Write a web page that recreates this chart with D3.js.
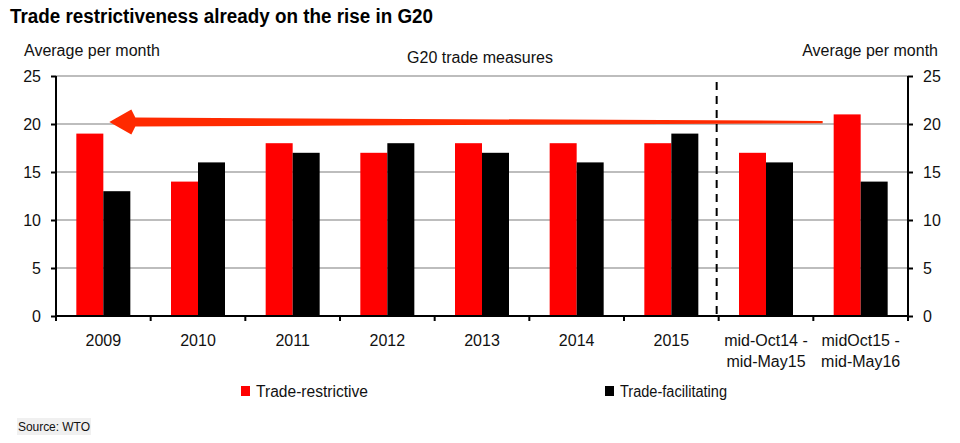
<!DOCTYPE html>
<html>
<head>
<meta charset="utf-8">
<script src="https://cdn.jsdelivr.net/npm/d3@7"></script>
<style>
  html, body { margin: 0; padding: 0; background: #fff; }
  svg { display: block; font-family: Arial, "Liberation Sans", sans-serif; }
</style>
</head>
<body>
<svg id="chart" width="960" height="443"></svg>
<script>
const categories = ["2009", "2010", "2011", "2012", "2013", "2014", "2015", "mid-Oct14 -\nmid-May15", "midOct15 -\nmid-May16"];
const seriesNames = ["Trade-restrictive", "Trade-facilitating"];
const restrictive = [19, 14, 18, 17, 18, 18, 18, 17, 21];
const facilitating = [13, 16, 17, 18, 17, 16, 19, 16, 14];
const yTicks = [0, 5, 10, 15, 20, 25];
const colors = ["#ff0000", "#000000"];
const arrowLevel = 20.2;

const svg = d3.select("#chart");
const x = d3.scaleBand().domain(categories).range([56, 908]).padding(0);
const xs = d3.scaleBand().domain(seriesNames).range([x.bandwidth() / 2 - 27, x.bandwidth() / 2 + 27]).padding(0);
const y = d3.scaleLinear().domain([0, 25]).range([316, 76]);

// Title
svg.append("text").attr("x", 10).attr("y", 23).attr("font-size", 20).attr("font-weight", "bold").attr("fill", "#000")
  .attr("textLength", 423).attr("lengthAdjust", "spacingAndGlyphs")
  .text("Trade restrictiveness already on the rise in G20");
svg.append("text").attr("x", 24).attr("y", 56).attr("font-size", 16).attr("fill", "#111").text("Average per month");
svg.append("text").attr("x", 938).attr("y", 56).attr("font-size", 16).attr("text-anchor", "end").attr("fill", "#111").text("Average per month");
svg.append("text").attr("x", 480).attr("y", 63).attr("font-size", 16).attr("text-anchor", "middle").attr("fill", "#111").text("G20 trade measures");

// Gridlines
svg.append("g").selectAll("line").data(yTicks.filter(d => d > 0)).join("line")
  .attr("x1", 56).attr("x2", 908).attr("y1", d => y(d)).attr("y2", d => y(d))
  .attr("stroke", "#bdbdbd").attr("stroke-width", 2);

// Bars
const data = categories.map((c, i) => ({ c, vals: [restrictive[i], facilitating[i]] }));
const groups = svg.append("g").selectAll("g").data(data).join("g")
  .attr("transform", d => `translate(${x(d.c)},0)`);
groups.selectAll("rect").data(d => d.vals.map((v, j) => ({ v, s: seriesNames[j], j }))).join("rect")
  .attr("x", d => xs(d.s)).attr("width", xs.bandwidth())
  .attr("y", d => y(d.v)).attr("height", d => y(0) - y(d.v))
  .attr("fill", d => colors[d.j]);

// Dashed separator
svg.append("line").attr("x1", x(categories[7]) - 2).attr("x2", x(categories[7]) - 2)
  .attr("y1", 82).attr("y2", y(0))
  .attr("stroke", "#000").attr("stroke-width", 2).attr("stroke-dasharray", "8,6");

// Axes
const yLeft = d3.axisLeft(y).tickValues(yTicks).tickSize(5).tickPadding(10);
const gl = svg.append("g").attr("transform", "translate(56,0)").call(yLeft);
const yRight = d3.axisRight(y).tickValues(yTicks).tickSize(5).tickPadding(10);
const gr = svg.append("g").attr("transform", "translate(908,0)").call(yRight);
[gl, gr].forEach(g => {
  g.selectAll(".tick line").attr("stroke", "#000").attr("stroke-width", 2);
  g.selectAll(".tick text").attr("font-size", 16).attr("font-family", "Arial, 'Liberation Sans', sans-serif").attr("fill", "#111");
});
gl.select(".domain").remove();
gr.select(".domain").remove();
svg.append("line").attr("x1", 56).attr("x2", 56).attr("y1", y(25)).attr("y2", y(0) + 1).attr("stroke", "#000").attr("stroke-width", 2);
svg.append("line").attr("x1", 908).attr("x2", 908).attr("y1", y(25)).attr("y2", y(0) + 1).attr("stroke", "#000").attr("stroke-width", 2);

// X axis
svg.append("line").attr("x1", 55).attr("x2", 909).attr("y1", y(0)).attr("y2", y(0)).attr("stroke", "#000").attr("stroke-width", 2);
const xTickPos = categories.map(c => x(c)).concat([x(categories[categories.length - 1]) + x.bandwidth()]);
svg.append("g").selectAll("line").data(xTickPos).join("line")
  .attr("x1", d => d).attr("x2", d => d).attr("y1", y(0)).attr("y2", y(0) + 5)
  .attr("stroke", "#000").attr("stroke-width", 2);
const xl = svg.append("g").selectAll("text").data(categories).join("text")
  .attr("x", d => x(d) + x.bandwidth() / 2).attr("y", 346)
  .attr("text-anchor", "middle").attr("font-size", 16).attr("fill", "#111");
xl.each(function(d) {
  const lines = d.split("\n");
  d3.select(this).selectAll("tspan").data(lines).join("tspan")
    .attr("x", x(d) + x.bandwidth() / 2).attr("dy", (l, i) => i === 0 ? 0 : 21).text(l => l);
});

// Arrow (tapered)
const ay = y(arrowLevel);
const xStart = x(categories[8]) + xs("Trade-restrictive") - 11;
const xTip = x(categories[0]) + x.bandwidth() / 2 + 6;
const headBase = xTip + 26;
const arrowPts = [
  [xStart, ay - 1.2], [headBase, ay - 4.5], [headBase - 4, ay - 12.5], [xTip, ay],
  [headBase - 4, ay + 12.5], [headBase, ay + 4.5], [xStart, ay + 1.2]
];
svg.append("path").attr("d", d3.line()(arrowPts) + "Z").attr("fill", "#ff2a00");

// Legend
const legendX = [241, 605];
const legendLen = [112, 107];
seriesNames.forEach((s, i) => {
  svg.append("rect").attr("x", legendX[i]).attr("y", 386).attr("width", 9).attr("height", 10).attr("fill", colors[i]);
  svg.append("text").attr("x", legendX[i] + 15).attr("y", 397).attr("font-size", 16).attr("fill", "#111")
    .attr("textLength", legendLen[i]).attr("lengthAdjust", "spacingAndGlyphs").text(s);
});

// Source
svg.append("rect").attr("x", 17).attr("y", 418).attr("width", 74).attr("height", 17).attr("fill", "#f0f0f0");
svg.append("text").attr("x", 18).attr("y", 431).attr("font-size", 12).attr("fill", "#111").attr("textLength", 72).text("Source: WTO");
</script>
</body>
</html>
